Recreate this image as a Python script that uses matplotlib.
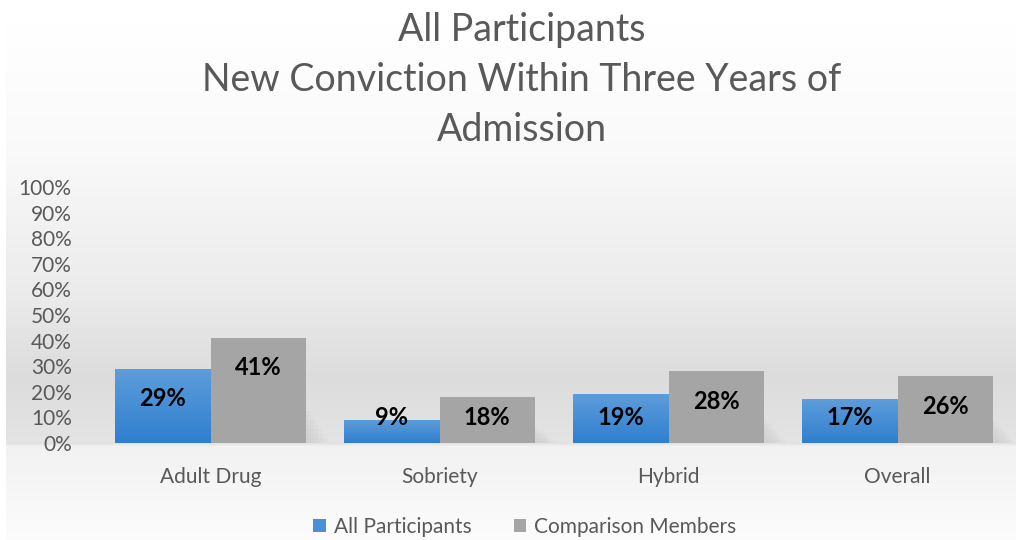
import numpy as np
import matplotlib.pyplot as plt
from matplotlib.patches import Rectangle
from matplotlib.colors import LinearSegmentedColormap

categories = ["Adult Drug", "Sobriety", "Hybrid", "Overall"]
all_participants = [0.29, 0.09, 0.19, 0.17]
comparison_members = [0.41, 0.18, 0.28, 0.26]
series_names = ["All Participants", "Comparison Members"]
title_lines = ["All Participants", "New Conviction Within Three Years of", "Admission"]
yticks = [i / 10 for i in range(11)]
ytick_labels = [f"{i * 10}%" for i in range(11)]

W, H = 1016, 540
fig = plt.figure(figsize=(W / 100, H / 100), dpi=100)
plt.rcParams['font.family'] = ['Lato', 'DejaVu Sans']

# backdrop: soft vertical gradient with a lighter "floor" under the bars
bg = fig.add_axes([0, 0, 1, 1], zorder=-10)
stops_y = [0, 150, 300, 375, 443, 446, 540]
stops_v = [1.0, 0.975, 0.915, 0.86, 0.89, 0.945, 0.985]
prof = np.interp(np.arange(H), stops_y, stops_v)
img = np.repeat(prof[:, None], W, axis=1)
img[:, :6] = 1.0
bg.imshow(img, cmap="gray", vmin=0, vmax=1, aspect="auto", extent=[0, W, H, 0])
bg.set_xlim(0, W)
bg.set_ylim(H, 0)
bg.axis("off")

ax = fig.add_axes([96 / W, 1 - 443 / H, (1012 - 96) / W, (443 - 187) / H])
ax.patch.set_alpha(0)
x = np.arange(len(categories))
bw = 0.415

blue_cmap = LinearSegmentedColormap.from_list("b", ["#2f7fcf", "#5e9ddb"])
bars1 = ax.bar(x - bw / 2, all_participants, bw, color="#4a8fd6", label=series_names[0], zorder=3)
bars2 = ax.bar(x + bw / 2, comparison_members, bw, color="#a5a5a5", label=series_names[1], zorder=3)

# vertical shading on the blue bars
grad = np.linspace(0, 1, 256)[:, None]
for b in bars1:
    x0, y0 = b.get_x(), b.get_y()
    w, h = b.get_width(), b.get_height()
    im = ax.imshow(grad, cmap=blue_cmap, aspect="auto", origin="lower",
                   extent=[x0, x0 + w, y0, y0 + h], zorder=3.5)
    im.set_clip_path(b)

# soft shadows to the right of each group
for b in bars2:
    x0, h = b.get_x() + b.get_width(), b.get_height()
    for k in range(8):
        ax.add_patch(Rectangle((x0, 0.0), 0.012 * (k + 1), h * 0.35 * (1 - k / 8),
                               color="#b0b0b0", alpha=0.05, lw=0, zorder=2))

def label_y(v):
    return max(v - 0.117, 0.098)

for bars, vals in ((bars1, all_participants), (bars2, comparison_members)):
    for b, v in zip(bars, vals):
        ax.text(b.get_x() + b.get_width() / 2, label_y(v), f"{round(v * 100)}%",
                ha="center", va="center", fontsize=17, fontweight="bold",
                color="black", zorder=5)

ax.set_xlim(-0.5, len(categories) - 0.5)
ax.set_ylim(0, 1)
ax.set_yticks(yticks)
ax.set_yticklabels(ytick_labels)
ax.set_xticks(x)
ax.set_xticklabels(categories)
ax.tick_params(axis="both", length=0, labelsize=15, colors="#595959")
ax.tick_params(axis="x", pad=17.5)
ax.tick_params(axis="y", pad=17.5)
for lbl in ax.get_yticklabels():
    lbl.set_horizontalalignment("right")
for s in ax.spines.values():
    s.set_visible(False)

for i, t in enumerate(title_lines):
    fig.text(522 / W, 1 - (30 + 50 * i) / H, t, ha="center", va="center",
             fontsize=27, color="#595959")

fig.legend(handles=[bars1, bars2], labels=series_names, loc="center",
           bbox_to_anchor=(525 / W, 1 - 527 / H), ncol=2, frameon=False,
           fontsize=15, labelcolor="#595959", handlelength=0.6, handleheight=0.6,
           handletextpad=0.4, columnspacing=2.0)

fig.savefig("out.png", dpi=100)
